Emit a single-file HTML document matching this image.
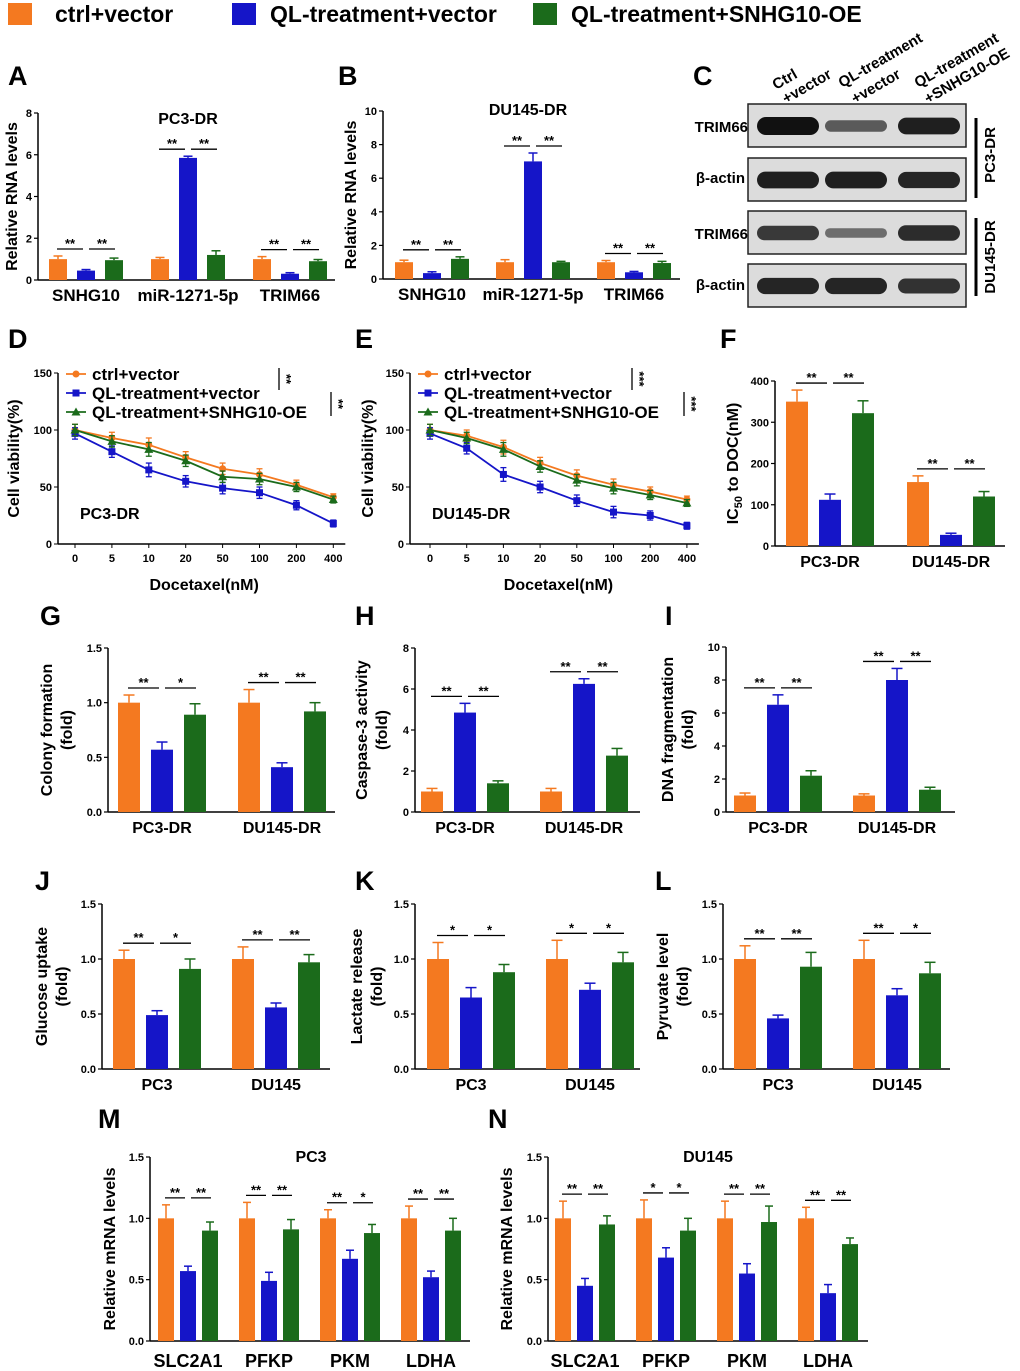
<!DOCTYPE html>
<html><head><meta charset="utf-8"><style>
body{margin:0;background:#fff}
svg{display:block;font-family:"Liberation Sans",Arial,sans-serif;font-weight:bold}
</style></head><body>
<svg id="fig" width="1020" height="1371" viewBox="0 0 1020 1371">
<g>
<rect x="8" y="3" width="24" height="22" fill="#f47920"/>
<text x="55" y="22" font-size="23">ctrl+vector</text>
<rect x="232" y="3" width="24" height="22" fill="#1515c8"/>
<text x="270" y="22" font-size="23">QL-treatment+vector</text>
<rect x="533" y="3" width="24" height="22" fill="#1b6b1b"/>
<text x="571" y="22" font-size="23">QL-treatment+SNHG10-OE</text>
</g>
<g id="blot">
<text x="748" y="132" font-size="15" text-anchor="end">TRIM66</text>
<text x="745" y="183" font-size="15" text-anchor="end">β-actin</text>
<text x="748" y="239" font-size="15" text-anchor="end">TRIM66</text>
<text x="745" y="290" font-size="15" text-anchor="end">β-actin</text>
<g font-size="15">
<text transform="translate(776,90) rotate(-30)">Ctrl</text>
<text transform="translate(786,104) rotate(-30)">+vector</text>
<text transform="translate(842,88) rotate(-30)">QL-treatment</text>
<text transform="translate(855,104) rotate(-30)">+vector</text>
<text transform="translate(918,88) rotate(-30)">QL-treatment</text>
<text transform="translate(928,104) rotate(-30)">+SNHG10-OE</text>
</g>
<line x1="976" y1="118" x2="976" y2="198" stroke="#000" stroke-width="3"/>
<text transform="translate(995,155) rotate(-90)" font-size="15" text-anchor="middle">PC3-DR</text>
<line x1="976" y1="218" x2="976" y2="296" stroke="#000" stroke-width="3"/>
<text transform="translate(995,257) rotate(-90)" font-size="15" text-anchor="middle">DU145-DR</text>
</g>
</svg>
<script>
const NS="http://www.w3.org/2000/svg";
const svg=document.getElementById('fig');
const COL=["#f47920","#1515c8","#1b6b1b"];
function mk(t,a,p){const e=document.createElementNS(NS,t);for(const k in a)e.setAttribute(k,a[k]);(p||svg).appendChild(e);return e;}
function txt(x,y,s,fs,anchor,p,rot){const e=mk('text',{x:x,y:y,'font-size':fs,'text-anchor':anchor||'start'},p);if(rot)e.setAttribute('transform','rotate('+(rot===2?90:-90)+' '+x+' '+y+')');e.textContent=s;return e;}

// blot bands
const blotBoxes=[104,158,211,264];
const bandIntensity=[[1,0.45,0.9],[0.9,0.9,0.85],[0.7,0.3,0.8],[0.85,0.85,0.75]];
const bg=document.getElementById('blot');
blotBoxes.forEach((y,i)=>{
  const r=mk('rect',{x:748,y:y,width:218,height:43,fill:'#dcdcdc',stroke:'#222','stroke-width':1.5},bg);
  
  
  [788,856,929].forEach((cx,j)=>{
    const a=bandIntensity[i][j];
    const h=6+12*a;
    const b=mk('rect',{x:cx-31,y:y+22-h/2,width:62,height:h,rx:h/2,fill:'#111','fill-opacity':0.35+0.65*a},bg);
    
    
  });
});

// letters
const letters=[["A",8,85],["B",338,85],["C",693,85],["D",8,348],["E",355,348],["F",720,348],["G",40,625],["H",355,625],["I",665,625],["J",35,890],["K",355,890],["L",655,890],["M",98,1128],["N",488,1128]];
letters.forEach(l=>{const t=txt(l[1],l[2],l[0],27);});

// ---------- bar panel data ----------
const A_cats=["SNHG10","miR-1271-5p","TRIM66"];
const A_ctrl=[1.0,1.0,1.0], A_ql=[0.45,5.85,0.3], A_oe=[0.95,1.2,0.9];
const A_err=[[0.15,0.08,0.12],[0.05,0.08,0.05],[0.1,0.2,0.08]];
const A_ticks=["0","2","4","6","8"];
const B_cats=["SNHG10","miR-1271-5p","TRIM66"];
const B_ctrl=[1.0,1.0,1.0], B_ql=[0.35,7.0,0.4], B_oe=[1.2,1.0,0.95];
const B_err=[[0.12,0.15,0.1],[0.08,0.5,0.05],[0.12,0.05,0.1]];
const B_ticks=["0","2","4","6","8","10"];
const F_cats=["PC3-DR","DU145-DR"];
const F_ctrl=[350,155], F_ql=[112,27], F_oe=[322,120];
const F_err=[[28,15],[14,4],[30,12]];
const F_ticks=["0","100","200","300","400"];
const G_cats=["PC3-DR","DU145-DR"];
const G_ctrl=[1.0,1.0], G_ql=[0.57,0.41], G_oe=[0.89,0.92];
const G_err=[[0.07,0.12],[0.07,0.04],[0.1,0.08]];
const G_ticks=["0.0","0.5","1.0","1.5"];
const H_cats=["PC3-DR","DU145-DR"];
const H_ctrl=[1.0,1.0], H_ql=[4.85,6.25], H_oe=[1.4,2.75];
const H_err=[[0.15,0.15],[0.45,0.25],[0.12,0.35]];
const H_ticks=["0","2","4","6","8"];
const I_cats=["PC3-DR","DU145-DR"];
const I_ctrl=[1.0,1.0], I_ql=[6.5,8.0], I_oe=[2.2,1.35];
const I_err=[[0.15,0.1],[0.6,0.7],[0.3,0.15]];
const I_ticks=["0","2","4","6","8","10"];
const J_cats=["PC3","DU145"];
const J_ctrl=[1.0,1.0], J_ql=[0.49,0.56], J_oe=[0.91,0.97];
const J_err=[[0.08,0.11],[0.04,0.04],[0.09,0.07]];
const K_cats=["PC3","DU145"];
const K_ctrl=[1.0,1.0], K_ql=[0.65,0.72], K_oe=[0.88,0.97];
const K_err=[[0.15,0.17],[0.09,0.06],[0.07,0.09]];
const L_cats=["PC3","DU145"];
const L_ctrl=[1.0,1.0], L_ql=[0.46,0.67], L_oe=[0.93,0.87];
const L_err=[[0.12,0.17],[0.03,0.06],[0.13,0.1]];
const M_cats=["SLC2A1","PFKP","PKM","LDHA"];
const M_ctrl=[1.0,1.0,1.0,1.0], M_ql=[0.57,0.49,0.67,0.52], M_oe=[0.9,0.91,0.88,0.9];
const M_err=[[0.11,0.13,0.07,0.1],[0.04,0.07,0.07,0.05],[0.07,0.08,0.07,0.1]];
const N_cats=["SLC2A1","PFKP","PKM","LDHA"];
const N_ctrl=[1.0,1.0,1.0,1.0], N_ql=[0.45,0.68,0.55,0.39], N_oe=[0.95,0.9,0.97,0.79];
const N_err=[[0.14,0.15,0.14,0.09],[0.06,0.08,0.08,0.07],[0.07,0.1,0.13,0.05]];
const frac_ticks=["0.0","0.5","1.0","1.5"];

function barPanel(c){
  const g=mk('g',{});
  
  
  const ymax=parseFloat(c.ticks[c.ticks.length-1]);
  const y=v=>c.bot-(v/ymax)*(c.bot-c.top);
  mk('line',{x1:c.ax,y1:c.top,x2:c.ax,y2:c.bot,stroke:'#000','stroke-width':1.5},g);
  mk('line',{x1:c.ax,y1:c.bot,x2:c.axEnd,y2:c.bot,stroke:'#000','stroke-width':1.5},g);
  c.ticks.forEach(t=>{const v=parseFloat(t);const yy=y(v);
    mk('line',{x1:c.ax-4,y1:yy,x2:c.ax,y2:yy,stroke:'#000','stroke-width':1.2},g);
    const tl=txt(c.ax-6,yy+4,t,11,'end',g);
    
    });
  const series=[c.ctrl,c.ql,c.oe];
  c.cats.forEach((cat,i)=>{
    const gc=c.x0+i*c.gap;
    const tops=[];
    const cxs=[];
    series.forEach((s,j)=>{
      const cx=gc+(j-1)*c.bs; cxs.push(cx); const v=s[i]; const e=c.err[j][i];
      const r=mk('rect',{x:cx-c.bw/2,y:y(v),width:c.bw,height:c.bot-y(v),fill:COL[j]},g);
      
      
      mk('line',{x1:cx,y1:y(v),x2:cx,y2:y(v+e),stroke:COL[j],'stroke-width':1.5},g);
      mk('line',{x1:cx-c.bw/4,y1:y(v+e),x2:cx+c.bw/4,y2:y(v+e),stroke:COL[j],'stroke-width':1.5},g);
      tops.push(y(v+e));
    });
    const ly=Math.min(...tops)-7;
    const st=c.stars?c.stars[i]:["**","**"];
    const segs=[[cxs[0]-1,cxs[1]-3],[cxs[1]+3,cxs[2]+1]];
    segs.forEach((p,k)=>{
      mk('line',{x1:p[0],y1:ly,x2:p[1],y2:ly,stroke:'#000','stroke-width':1.3},g);
      const s=txt((p[0]+p[1])/2,ly-1,st[k],13,'middle',g);
      
      
    });
    const cl=txt(gc,c.bot+(c.labDy||21),cat,c.labFs||16,'middle',g);
    
    
  });
  if(c.title){const t=txt(c.titleX,c.titleY,c.title,16,'middle',g);}
  c.ylab.forEach((l,k)=>{const t=txt(c.ylx+k*20,(c.top+c.bot)/2,'',16,'middle',g,true);
    
    if(l==='IC50'){t.innerHTML='IC<tspan font-size="11" dy="4">50</tspan><tspan dy="-4"> to DOC(nM)</tspan>';}else t.textContent=l;});
}
barPanel({name:'panel-a-chart',ax:38,axEnd:335,top:113,bot:280,ticks:A_ticks,cats:A_cats,ctrl:A_ctrl,ql:A_ql,oe:A_oe,err:A_err,x0:86,gap:102,bs:28,bw:18,title:'PC3-DR',titleX:188,titleY:124,ylab:['Relative RNA levels'],ylx:17,labFs:17});
barPanel({name:'panel-b-chart',ax:383,axEnd:680,top:111,bot:279,ticks:B_ticks,cats:B_cats,ctrl:B_ctrl,ql:B_ql,oe:B_oe,err:B_err,x0:432,gap:101,bs:28,bw:18,title:'DU145-DR',titleX:528,titleY:115,ylab:['Relative RNA levels'],ylx:356,labFs:17});
barPanel({name:'panel-f-chart',ax:775,axEnd:1005,top:381,bot:546,ticks:F_ticks,cats:F_cats,ctrl:F_ctrl,ql:F_ql,oe:F_oe,err:F_err,x0:830,gap:121,bs:33,bw:22,ylab:['IC50'],ylx:738});
barPanel({name:'panel-g-chart',ax:108,axEnd:335,top:648,bot:812,ticks:G_ticks,cats:G_cats,ctrl:G_ctrl,ql:G_ql,oe:G_oe,err:G_err,x0:162,gap:120,bs:33,bw:22,stars:[["**","*"],["**","**"]],ylab:['Colony formation','(fold)'],ylx:52});
barPanel({name:'panel-h-chart',ax:415,axEnd:640,top:648,bot:812,ticks:H_ticks,cats:H_cats,ctrl:H_ctrl,ql:H_ql,oe:H_oe,err:H_err,x0:465,gap:119,bs:33,bw:22,ylab:['Caspase-3 activity','(fold)'],ylx:367});
barPanel({name:'panel-i-chart',ax:726,axEnd:955,top:647,bot:812,ticks:I_ticks,cats:I_cats,ctrl:I_ctrl,ql:I_ql,oe:I_oe,err:I_err,x0:778,gap:119,bs:33,bw:22,ylab:['DNA fragmentation','(fold)'],ylx:673});
barPanel({name:'panel-j-chart',ax:102,axEnd:330,top:904,bot:1069,ticks:frac_ticks,cats:J_cats,ctrl:J_ctrl,ql:J_ql,oe:J_oe,err:J_err,x0:157,gap:119,bs:33,bw:22,stars:[["**","*"],["**","**"]],ylab:['Glucose uptake','(fold)'],ylx:47});
barPanel({name:'panel-k-chart',ax:415,axEnd:640,top:904,bot:1069,ticks:frac_ticks,cats:K_cats,ctrl:K_ctrl,ql:K_ql,oe:K_oe,err:K_err,x0:471,gap:119,bs:33,bw:22,stars:[["*","*"],["*","*"]],ylab:['Lactate release','(fold)'],ylx:362});
barPanel({name:'panel-l-chart',ax:723,axEnd:950,top:904,bot:1069,ticks:frac_ticks,cats:L_cats,ctrl:L_ctrl,ql:L_ql,oe:L_oe,err:L_err,x0:778,gap:119,bs:33,bw:22,stars:[["**","**"],["**","*"]],ylab:['Pyruvate level','(fold)'],ylx:668});
barPanel({name:'panel-m-chart',ax:150,axEnd:470,top:1157,bot:1341,ticks:frac_ticks,cats:M_cats,ctrl:M_ctrl,ql:M_ql,oe:M_oe,err:M_err,x0:188,gap:81,bs:22,bw:16,stars:[["**","**"],["**","**"],["**","*"],["**","**"]],title:'PC3',titleX:311,titleY:1162,ylab:['Relative mRNA levels'],ylx:115,labDy:26,labFs:18});
barPanel({name:'panel-n-chart',ax:548,axEnd:868,top:1157,bot:1341,ticks:frac_ticks,cats:N_cats,ctrl:N_ctrl,ql:N_ql,oe:N_oe,err:N_err,x0:585,gap:81,bs:22,bw:16,stars:[["**","**"],["*","*"],["**","**"],["**","**"]],title:'DU145',titleX:708,titleY:1162,ylab:['Relative mRNA levels'],ylx:512,labDy:26,labFs:18});

// ---------- line charts ----------
const doseLabels=["0","5","10","20","50","100","200","400"];
const yTicks150=["0","50","100","150"];
const D_ctrl=[100,93,87,76,66,61,52,41];
const D_ql=[97,81,65,55,49,45,34,18];
const D_oe=[100,90,83,73,59,57,50,39];
const E_ctrl=[100,95,85,71,60,52,46,39];
const E_ql=[97,84,61,50,38,28,25,16];
const E_oe=[100,93,83,68,56,49,43,36];
const lineErr=[5,5,6,5,5,5,4,3];
const legendNames=["ctrl+vector","QL-treatment+vector","QL-treatment+SNHG10-OE"];

function marker(kind,x,y,col,g){
  let m;
  if(kind===0)m=mk('circle',{cx:x,cy:y,r:3.5,fill:col},g);
  else if(kind===1)m=mk('rect',{x:x-3.5,y:y-3.5,width:7,height:7,fill:col},g);
  else m=mk('polygon',{points:`${x},${y-4.5} ${x+4.5},${y+3.5} ${x-4.5},${y+3.5}`,fill:col},g);
  
  
}
function linePanel(c){
  const g=mk('g',{});
  
  
  const y=v=>c.bot-v/150*(c.bot-c.top);
  const x=i=>c.x0+i*c.dx;
  mk('line',{x1:c.ax,y1:c.top,x2:c.ax,y2:c.bot,stroke:'#000','stroke-width':1.5},g);
  mk('line',{x1:c.ax,y1:c.bot,x2:x(doseLabels.length-1)+12,y2:c.bot,stroke:'#000','stroke-width':1.5},g);
  yTicks150.forEach(t=>{const yy=y(+t);mk('line',{x1:c.ax-4,y1:yy,x2:c.ax,y2:yy,stroke:'#000'},g);
    const tl=txt(c.ax-6,yy+4,t,11,'end',g);});
  doseLabels.forEach((d,i)=>{mk('line',{x1:x(i),y1:c.bot,x2:x(i),y2:c.bot+4,stroke:'#000'},g);
    const tl=txt(x(i),c.bot+18,d,11,'middle',g);});
  [c.ctrl,c.ql,c.oe].forEach((s,j)=>{
    const p=mk('polyline',{points:s.map((v,i)=>x(i)+','+y(v)).join(' '),fill:'none',stroke:COL[j],'stroke-width':1.8},g);
    
    
    s.forEach((v,i)=>{const e=lineErr[i];
      mk('line',{x1:x(i),y1:y(v-e),x2:x(i),y2:y(v+e),stroke:COL[j],'stroke-width':1.3},g);
      mk('line',{x1:x(i)-3,y1:y(v+e),x2:x(i)+3,y2:y(v+e),stroke:COL[j],'stroke-width':1.3},g);
      mk('line',{x1:x(i)-3,y1:y(v-e),x2:x(i)+3,y2:y(v-e),stroke:COL[j],'stroke-width':1.3},g);
      marker(j,x(i),y(v),COL[j],g);});
  });
  legendNames.forEach((n,j)=>{const ly=c.top+1+j*19;
    mk('line',{x1:c.ax+8,y1:ly,x2:c.ax+28,y2:ly,stroke:COL[j],'stroke-width':1.8},g);
    marker(j,c.ax+18,ly,COL[j],g);
    const t=txt(c.ax+34,ly+6,n,17,'start',g);});
  mk('line',{x1:c.bx1,y1:c.top-5,x2:c.bx1,y2:c.top+17,stroke:'#000','stroke-width':1.3},g);
  mk('line',{x1:c.bx2,y1:c.top+19,x2:c.bx2,y2:c.top+43,stroke:'#000','stroke-width':1.3},g);
  const s1=txt(c.bx1+3,c.top+6,c.s1,13,'middle',g,2);
  const s2=txt(c.bx2+3,c.top+31,c.s2,13,'middle',g,2);
  const tt=txt(c.ax+22,c.bot-25,c.title,16,'start',g);
  const xl=txt((c.x0+x(7))/2,c.bot+46,'Docetaxel(nM)',16,'middle',g);
  const yl=txt(c.ylx,(c.top+c.bot)/2,'Cell viability(%)',16,'middle',g,true);
}
linePanel({name:'panel-d-chart',ax:58,top:373,bot:544,x0:75,dx:36.9,ctrl:D_ctrl,ql:D_ql,oe:D_oe,title:'PC3-DR',ylx:19,bx1:279,bx2:331,s1:'**',s2:'**'});
linePanel({name:'panel-e-chart',ax:410,top:373,bot:544,x0:430,dx:36.7,ctrl:E_ctrl,ql:E_ql,oe:E_oe,title:'DU145-DR',ylx:373,bx1:632,bx2:684,s1:'***',s2:'***'});
</script>
</body></html>
